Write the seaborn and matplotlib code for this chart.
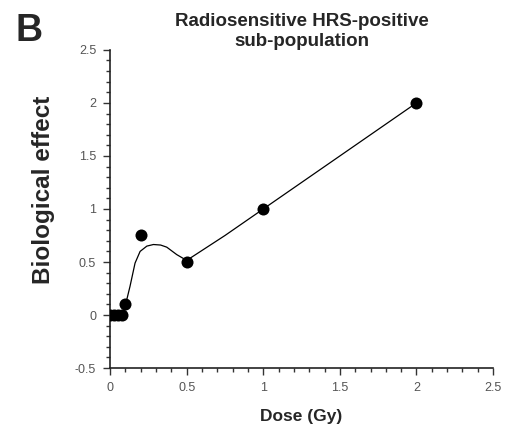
import matplotlib
matplotlib.use("Agg")
import matplotlib.pyplot as plt
import seaborn as sns
import pandas as pd
from matplotlib.ticker import MultipleLocator

# Measured points
dose = [0.0, 0.025, 0.05, 0.075, 0.1, 0.2, 0.5, 1.0, 2.0]
effect = [0.0, 0.0, 0.0, 0.0, 0.1, 0.75, 0.5, 1.0, 2.0]

# Fitted curve
fit_dose = [0.0, 0.05, 0.09, 0.098, 0.13, 0.163, 0.196, 0.24, 0.283, 0.33, 0.37, 0.435, 0.5,
            0.75, 1.0, 1.5, 2.0]
fit_effect = [0.0, 0.0, 0.0, 0.08, 0.27, 0.49, 0.6, 0.65, 0.665, 0.66, 0.64, 0.57, 0.515,
              0.75, 1.0, 1.5, 2.0]

x_ticks = [0, 0.5, 1, 1.5, 2, 2.5]
x_tick_labels = ["0", "0.5", "1", "1.5", "2", "2.5"]
y_ticks = [-0.5, 0, 0.5, 1, 1.5, 2, 2.5]
y_tick_labels = ["-0.5", "0", "0.5", "1", "1.5", "2", "2.5"]

sns.set_style("ticks")
plt.rcParams["font.family"] = ["Liberation Sans", "DejaVu Sans"]

fig = plt.figure(figsize=(5.12, 4.30), dpi=100)
ax = fig.add_axes([0.215, 0.144, 0.748, 0.740])

pts = pd.DataFrame({"dose": dose, "effect": effect})
fit = pd.DataFrame({"dose": fit_dose, "effect": fit_effect})

sns.lineplot(data=fit, x="dose", y="effect", ax=ax, color="black", lw=0.9,
             sort=False, estimator=None)
sns.scatterplot(data=pts, x="dose", y="effect", ax=ax, color="black", s=75,
                edgecolor="black", linewidth=0, zorder=3)

ax.set_xlim(0, 2.5)
ax.set_ylim(-0.5, 2.5)
ax.set_xticks(x_ticks)
ax.set_xticklabels(x_tick_labels)
ax.set_yticks(y_ticks)
ax.set_yticklabels(y_tick_labels)
ax.xaxis.set_minor_locator(MultipleLocator(0.1))
ax.yaxis.set_minor_locator(MultipleLocator(0.1))
ax.tick_params(which="major", length=5, width=1, colors="#333333",
               labelcolor="#555555", labelsize=9, pad=5)
ax.tick_params(which="minor", length=3, width=1, colors="#333333")
for side in ("top", "right"):
    ax.spines[side].set_visible(False)
for side in ("left", "bottom"):
    ax.spines[side].set_linewidth(1.2)
    ax.spines[side].set_color("#222222")

ax.set_xlabel("Dose (Gy)", fontsize=12.5, fontweight="bold", labelpad=11)
ax.set_ylabel("Biological effect", fontsize=17.5, fontweight="bold")
ax.yaxis.set_label_coords(-0.144, 0.56)
ax.set_title("Radiosensitive HRS-positive\nsub-population", fontsize=13.5,
             fontweight="bold", pad=0, linespacing=1.25)

fig.text(0.03, 0.905, "B", fontsize=27, fontweight="bold")

fig.savefig("out.png", dpi=100, facecolor="white")
